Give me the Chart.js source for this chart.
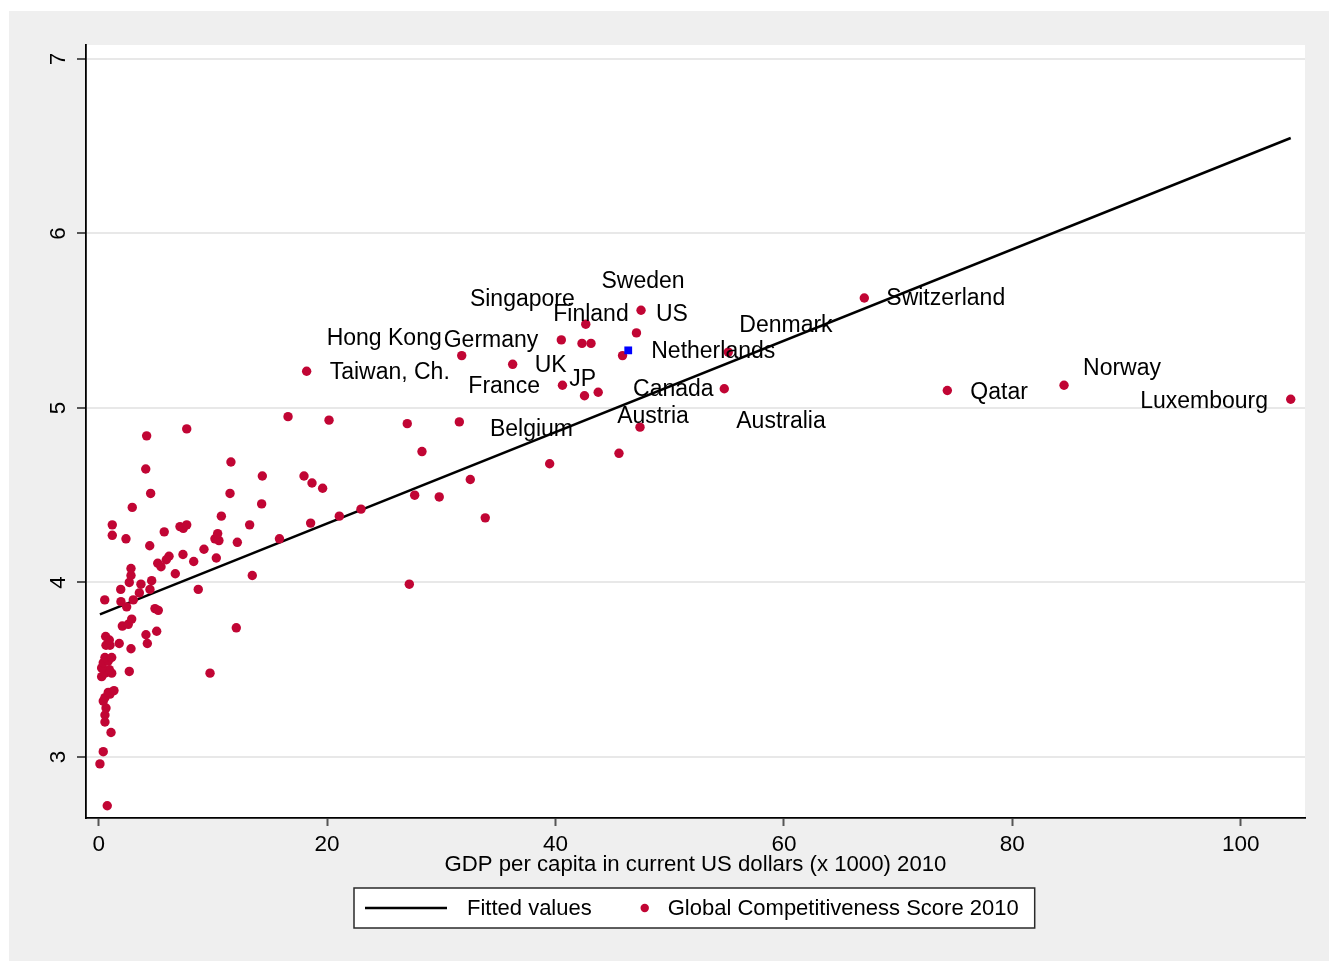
<!DOCTYPE html>
<html>
<head>
<meta charset="utf-8">
<title>GDP per capita and Global Competitiveness Score 2010</title>
<script src="https://cdn.jsdelivr.net/npm/chart.js@4.4.1/dist/chart.umd.min.js"></script>
<style>
  html, body { margin: 0; padding: 0; background: #ffffff; }
  canvas { display: block; }
</style>
</head>
<body>
<canvas id="chart" width="1329" height="961"></canvas>
<script>
// GDP per capita (thousand current US$, 2010) and GCI score, unlabelled countries
const otherGdp = [
  0.75, 0.11, 0.40, 1.08, 0.55, 0.55, 0.64, 0.40, 0.55, 0.99,
  0.84, 1.34, 0.26, 0.55, 1.14, 0.93, 0.26, 0.40, 0.84, 0.55,
  1.14, 2.68, 0.99, 0.64, 0.93, 0.61, 1.80, 2.83, 4.14, 4.26,
  5.08, 2.07, 2.59, 2.89, 4.93, 5.22, 0.53, 1.95, 2.45, 3.03,
  3.56, 1.93, 4.49, 2.68, 3.70, 4.64, 2.83, 2.83, 6.71, 5.17,
  5.46, 6.16, 5.92, 7.38, 8.32, 10.30, 9.22, 4.47, 12.14, 10.18,
  10.53, 10.42, 15.83, 2.39, 1.19, 1.19, 5.74, 7.12, 7.41, 7.71,
  13.22, 10.74, 2.94, 14.27, 4.55, 11.50, 14.33, 11.58, 4.12, 4.20,
  7.71, 16.58, 13.45, 8.72, 12.05, 9.75, 20.17, 17.98, 18.68, 19.61,
  18.56, 21.07, 22.97, 27.02, 31.58, 28.31, 27.20, 27.67, 29.82, 32.54,
  33.85, 39.49, 45.56, 47.40
];
const otherScore = [
  2.72, 2.96, 3.03, 3.14, 3.20, 3.24, 3.28, 3.32, 3.34, 3.36,
  3.37, 3.38, 3.46, 3.48, 3.48, 3.50, 3.51, 3.54, 3.55, 3.57,
  3.57, 3.49, 3.64, 3.64, 3.67, 3.69, 3.65, 3.62, 3.70, 3.65,
  3.72, 3.75, 3.76, 3.79, 3.85, 3.84, 3.90, 3.89, 3.86, 3.90,
  3.94, 3.96, 3.96, 4.00, 3.99, 4.01, 4.04, 4.08, 4.05, 4.11,
  4.09, 4.15, 4.13, 4.16, 4.12, 4.14, 4.19, 4.21, 4.23, 4.25,
  4.24, 4.28, 4.25, 4.25, 4.27, 4.33, 4.29, 4.32, 4.31, 4.33,
  4.33, 4.38, 4.43, 4.45, 4.51, 4.51, 4.61, 4.69, 4.65, 4.84,
  4.88, 4.95, 4.04, 3.96, 3.74, 3.48, 4.93, 4.61, 4.57, 4.54,
  4.34, 4.38, 4.42, 4.91, 4.92, 4.75, 3.99, 4.50, 4.49, 4.59,
  4.37, 4.68, 4.74, 4.89
];

// Countries shown with a name next to their marker
const labelledCountries = [
  'Taiwan, Ch.', 'Hong Kong', 'UK', 'Germany', 'Singapore', 'Finland', 'JP',
  'France', 'Belgium', 'Austria', 'US', 'Sweden', 'Canada', 'Denmark',
  'Australia', 'Switzerland', 'Qatar', 'Norway', 'Luxembourg'
];
const labelledGdp = [
  18.21, 31.79, 36.25, 40.51, 42.65, 42.32, 43.11,
  40.61, 42.54, 43.74, 47.09, 47.49, 45.87, 55.13,
  54.78, 67.04, 74.31, 84.53, 104.38
];
const labelledScore = [
  5.21, 5.30, 5.25, 5.39, 5.48, 5.37, 5.37,
  5.13, 5.07, 5.09, 5.43, 5.56, 5.30, 5.32,
  5.11, 5.63, 5.10, 5.13, 5.05
];

// Highlighted country (blue square)
const highlightCountry = ['Netherlands'];
const highlightGdp = [46.37];
const highlightScore = [5.33];

// Linear fit end points
const fitGdp = [0.11, 104.38];
const fitScore = [3.817, 6.547];

// Axis ticks
const xTickValues = [0, 20, 40, 60, 80, 100];
const yTickValues = [3, 4, 5, 6, 7];

const FONT = '"Liberation Sans", Arial, Helvetica, sans-serif';
const MARKER_RED = '#c10534';

// Where each name sits relative to its marker: [align, dx, dy] in pixels
const labelPlacement = {
  'Taiwan, Ch.': ['left', 23, 1],
  'Hong Kong': ['right', -20, -17],
  'UK': ['left', 22, 1],
  'Germany': ['right', -23, 1],
  'Singapore': ['right', -11, -25],
  'Finland': ['center', 9, -29],
  'JP': ['right', 5, 36],
  'France': ['right', -22.5, 1],
  'Belgium': ['right', -11.5, 34],
  'Austria': ['left', 19, 24],
  'US': ['left', 19.5, -18],
  'Sweden': ['center', 2, -28.5],
  'Canada': ['left', 10.5, 34],
  'Denmark': ['left', 11, -26],
  'Australia': ['left', 12, 33],
  'Switzerland': ['left', 22, 1],
  'Qatar': ['left', 23, 2],
  'Norway': ['left', 19, -17],
  'Luxembourg': ['right', -22.7, 2],
  'Netherlands': ['left', 23, 1]
};

const toPoints = (xs, ys) => xs.map((x, i) => ({ x: x, y: ys[i] }));

const scoreData = toPoints(otherGdp, otherScore).concat(toPoints(labelledGdp, labelledScore));

// Background panel, plot region, axis labels, marker names and legend
const stataLook = {
  id: 'stataLook',
  beforeDraw(chart) {
    const { ctx, chartArea: a } = chart;
    ctx.save();
    ctx.fillStyle = '#ffffff';
    ctx.fillRect(0, 0, chart.width, chart.height);
    ctx.fillStyle = '#efefef';
    ctx.fillRect(9, 11, chart.width - 9, chart.height - 11);
    ctx.fillStyle = '#ffffff';
    ctx.fillRect(a.left, a.top, a.right - a.left, a.bottom - a.top);
    ctx.restore();
  },
  afterDatasetsDraw(chart) {
    const { ctx } = chart;
    const xs = chart.scales.x, ys = chart.scales.y;
    ctx.save();
    ctx.font = '23px ' + FONT;
    ctx.fillStyle = '#000000';
    ctx.textBaseline = 'middle';
    const names = labelledCountries.concat(highlightCountry);
    const gx = labelledGdp.concat(highlightGdp);
    const gy = labelledScore.concat(highlightScore);
    names.forEach((name, i) => {
      const p = labelPlacement[name] || ['left', 20, 0];
      ctx.textAlign = p[0];
      ctx.fillText(name, xs.getPixelForValue(gx[i]) + p[1], ys.getPixelForValue(gy[i]) + p[2]);
    });
    ctx.restore();
  },
  afterDraw(chart) {
    const { ctx, chartArea: a } = chart;
    const xs = chart.scales.x, ys = chart.scales.y;
    ctx.save();
    ctx.fillStyle = '#000000';
    ctx.font = '22.5px ' + FONT;

    // x tick labels
    ctx.textAlign = 'center';
    ctx.textBaseline = 'middle';
    xs.ticks.forEach(t => {
      ctx.fillText(String(t.value), xs.getPixelForValue(t.value), a.bottom + 27);
    });

    // y tick labels, rotated
    ys.ticks.forEach(t => {
      ctx.save();
      ctx.translate(a.left - 27, ys.getPixelForValue(t.value));
      ctx.rotate(-Math.PI / 2);
      ctx.fillText(String(t.value), 0, 0);
      ctx.restore();
    });

    // x axis title
    ctx.font = '22.2px ' + FONT;
    ctx.fillText('GDP per capita in current US dollars (x 1000) 2010', (a.left + a.right) / 2, a.bottom + 47);

    // legend
    ctx.font = '22px ' + FONT;
    const fit = chart.data.datasets[2];
    const gcs = chart.data.datasets[1];
    const t1 = fit.label, t2 = gcs.label;
    const w1 = ctx.measureText(t1).width, w2 = ctx.measureText(t2).width;
    const boxW = 11 + 82 + 20 + w1 + 53 + 23 + w2 + 16;
    const boxH = 40;
    const bx = Math.round((a.left + a.right) / 2 - boxW / 2) - 1;
    const by = 888;
    const cy = by + boxH / 2;
    ctx.fillStyle = '#ffffff';
    ctx.fillRect(bx, by, boxW, boxH);
    ctx.strokeStyle = '#2a2a2a';
    ctx.lineWidth = 1.5;
    ctx.strokeRect(bx, by, boxW, boxH);

    let x = bx + 11;
    ctx.strokeStyle = fit.borderColor;
    ctx.lineWidth = fit.borderWidth;
    ctx.beginPath();
    ctx.moveTo(x, cy);
    ctx.lineTo(x + 82, cy);
    ctx.stroke();
    x += 82 + 20;
    ctx.fillStyle = '#000000';
    ctx.textAlign = 'left';
    ctx.fillText(t1, x, cy + 1);
    x += w1 + 53;
    ctx.fillStyle = gcs.pointBackgroundColor;
    ctx.beginPath();
    ctx.arc(x, cy, 4.2, 0, Math.PI * 2);
    ctx.fill();
    x += 23;
    ctx.fillStyle = '#000000';
    ctx.fillText(t2, x, cy + 1);
    ctx.restore();
  }
};

new Chart(document.getElementById('chart'), {
  type: 'scatter',
  data: {
    datasets: [
      {
        label: highlightCountry[0],
        data: toPoints(highlightGdp, highlightScore),
        pointStyle: 'rect',
        pointRadius: 5.5,
        pointBackgroundColor: '#0000ff',
        pointBorderWidth: 0,
        pointHoverRadius: 5.5
      },
      {
        label: 'Global Competitiveness Score 2010',
        data: scoreData,
        pointStyle: 'circle',
        pointRadius: 4.7,
        pointBackgroundColor: MARKER_RED,
        pointBorderWidth: 0,
        pointHoverRadius: 4.7
      },
      {
        type: 'line',
        label: 'Fitted values',
        data: toPoints(fitGdp, fitScore),
        borderColor: '#000000',
        borderWidth: 2.5,
        pointRadius: 0,
        fill: false,
        tension: 0
      }
    ]
  },
  options: {
    responsive: false,
    animation: false,
    devicePixelRatio: 1,
    events: [],
    layout: { padding: { left: 0, top: 45, right: 24, bottom: 0 } },
    plugins: {
      legend: { display: false },
      tooltip: { enabled: false },
      title: { display: false }
    },
    scales: {
      x: {
        type: 'linear',
        position: 'bottom',
        min: -1.11,
        max: 105.63,
        afterBuildTicks: s => { s.ticks = xTickValues.map(v => ({ value: v })); },
        afterFit: s => { s.height = 143; },
        ticks: { display: false },
        grid: {
          drawOnChartArea: false,
          drawTicks: true,
          tickLength: 8,
          tickColor: '#555555',
          tickWidth: 2
        },
        border: { display: true, color: '#000000', width: 1.8 }
      },
      y: {
        type: 'linear',
        position: 'left',
        min: 2.650,
        max: 7.080,
        afterBuildTicks: s => { s.ticks = yTickValues.map(v => ({ value: v })); },
        afterFit: s => { s.width = 86; },
        ticks: { display: false },
        grid: {
          drawOnChartArea: true,
          color: '#e8e8e8',
          lineWidth: 2,
          drawTicks: true,
          tickLength: 9,
          tickColor: '#555555',
          tickWidth: 2
        },
        border: { display: true, color: '#000000', width: 1.8 }
      }
    }
  },
  plugins: [stataLook]
});
</script>
</body>
</html>
